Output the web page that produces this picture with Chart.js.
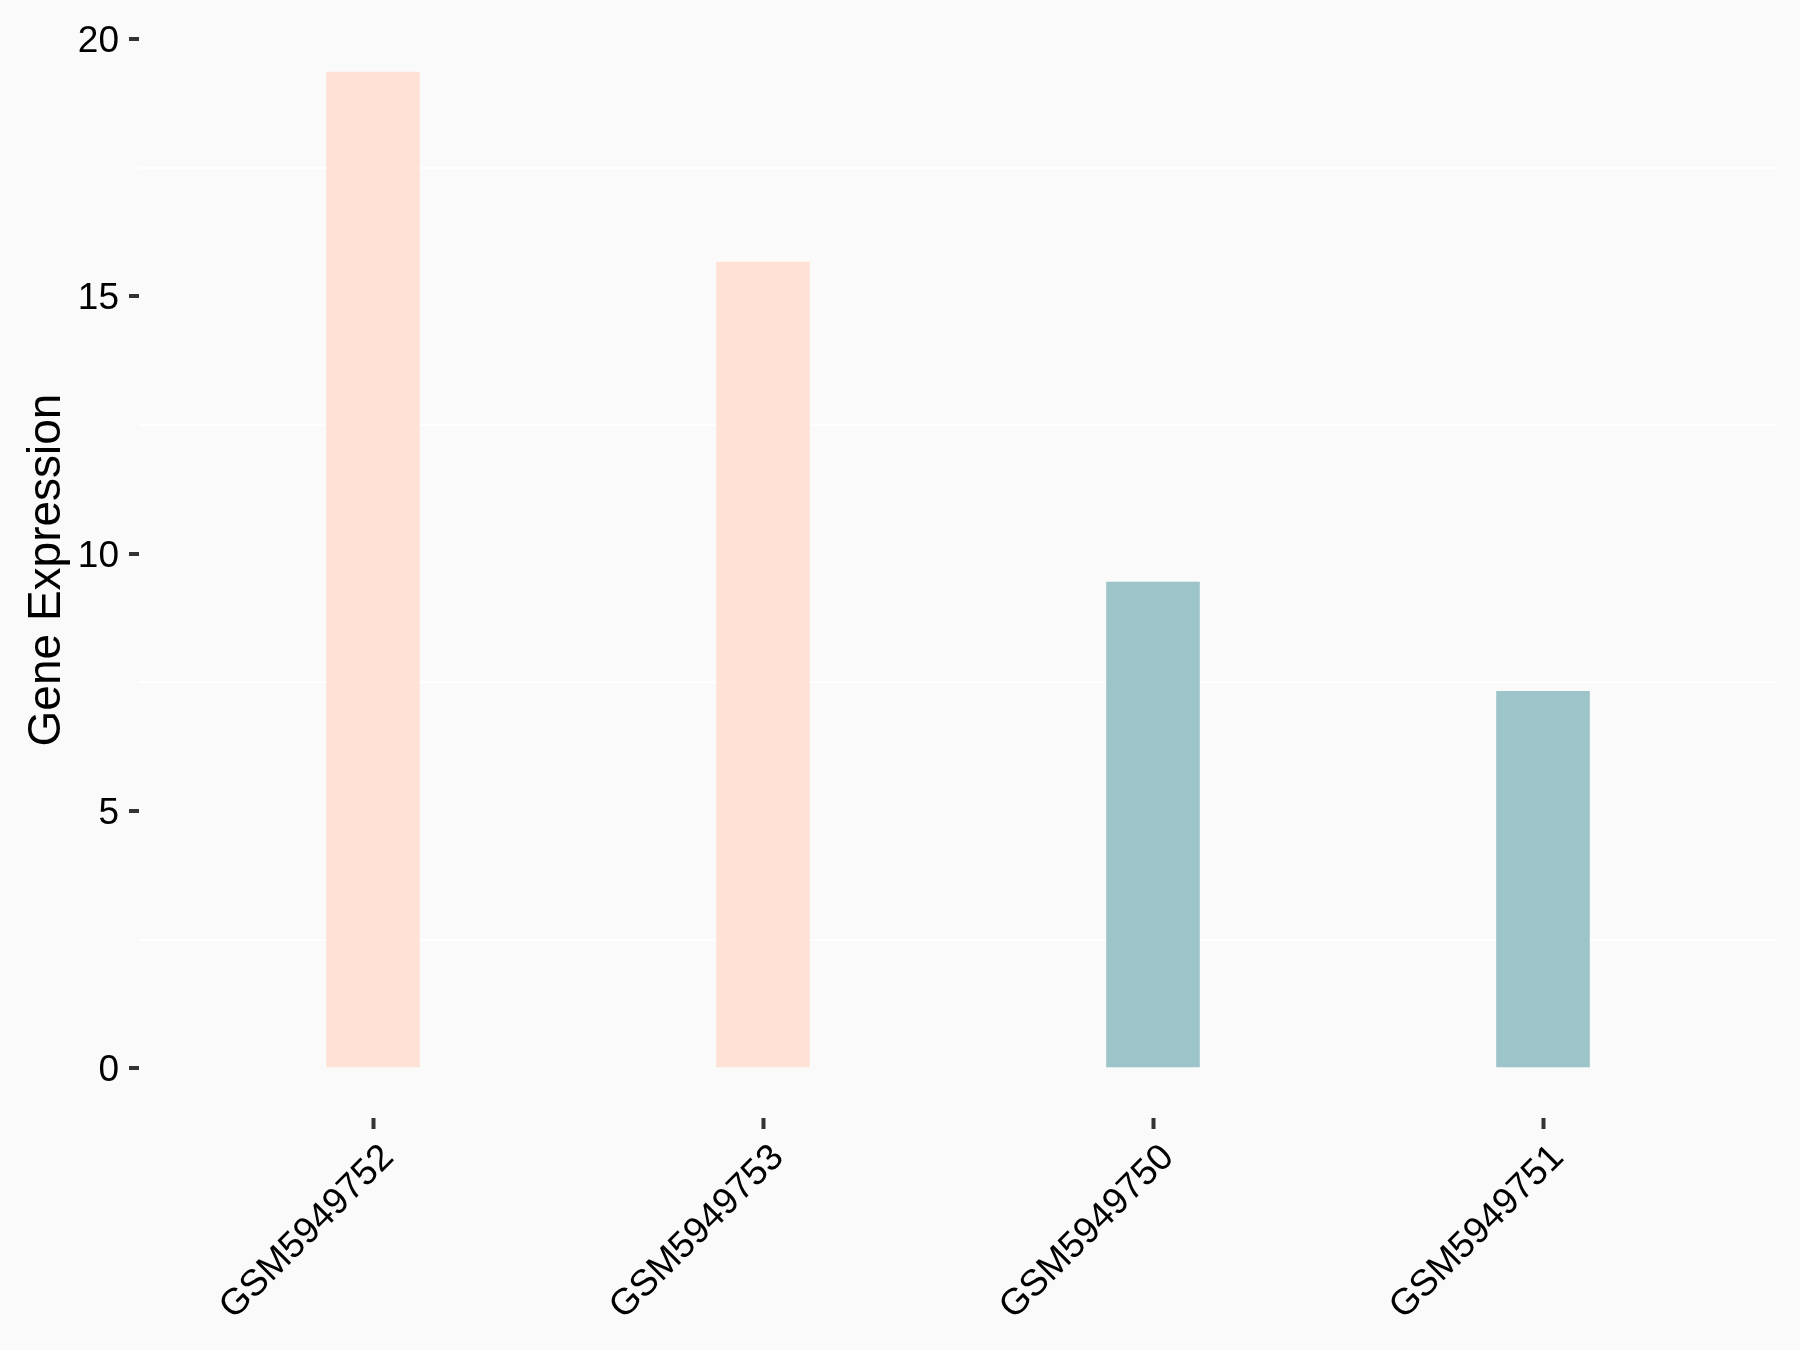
<!DOCTYPE html>
<html>
<head>
<meta charset="utf-8">
<script src="https://cdn.jsdelivr.net/npm/chart.js@4.4.1/dist/chart.umd.min.js"></script>
<style>
  html, body { margin: 0; padding: 0; background: #FAFAFA; }
  #wrap { width: 1800px; height: 1350px; }
</style>
</head>
<body>
<div id="wrap"><canvas id="barChart" width="1800" height="1350"></canvas></div>
<script>
const samples = ['GSM5949752', 'GSM5949753', 'GSM5949750', 'GSM5949751'];
const expression = [19.36, 15.67, 9.45, 7.33];
const barColors = ['#FFE1D6', '#FFE1D6', '#9DC4C8', '#9DC4C8'];
const yTicks = [0, 5, 10, 15, 20];
const yMinor = [2.5, 7.5, 12.5, 17.5];

// ggplot-like expansion: 5% on y, 0.6 category on x
const yMin = -0.968, yMax = 20.328;
const xMin = -0.6, xMax = samples.length - 1 + 0.6;

const font = "'Liberation Sans', Arial, sans-serif";

const ctx = document.getElementById('barChart').getContext('2d');
new Chart(ctx, {
  type: 'bar',
  data: {
    datasets: [{
      data: expression.map((v, i) => ({ x: i, y: v })),
      backgroundColor: barColors,
      borderWidth: 0,
      barPercentage: 0.24,
      categoryPercentage: 1
    }]
  },
  plugins: [{
    id: 'bg',
    beforeDraw(chart) {
      const c = chart.ctx;
      c.save();
      c.fillStyle = '#FAFAFA';
      c.fillRect(0, 0, chart.width, chart.height);
      c.restore();
    }
  }],
  options: {
    responsive: false,
    animation: false,
    layout: { padding: { top: 22, right: 23, left: 0, bottom: 0 } },
    plugins: { legend: { display: false }, tooltip: { enabled: false } },
    scales: {
      x: {
        type: 'linear',
        min: xMin,
        max: xMax,
        offset: false,
        border: { display: false },
        grid: { offset: false, color: 'rgba(0,0,0,0)', drawTicks: true, tickLength: 11, tickColor: '#333', tickWidth: 4 },
        afterBuildTicks: s => { s.ticks = samples.map((_, i) => ({ value: i })); },
        afterFit: s => { s.height = 232; },
        ticks: {
          minRotation: 45,
          maxRotation: 45,
          autoSkip: false,
          padding: 7,
          labelOffset: 15,
          color: '#000',
          font: { family: font, size: 37 },
          callback: v => samples[v]
        }
      },
      y: {
        min: yMin,
        max: yMax,
        border: { display: false },
        afterBuildTicks: s => {
          s.ticks = yTicks.concat(yMinor).sort((a, b) => a - b).map(v => ({ value: v }));
        },
        afterFit: s => { s.width = 139; },
        grid: {
          color: c => (yMinor.includes(c.tick.value) ? '#FFFFFF' : 'rgba(0,0,0,0)'),
          lineWidth: 2,
          tickLength: 10,
          tickWidth: 4,
          tickColor: c => (yMinor.includes(c.tick.value) ? 'rgba(0,0,0,0)' : '#333')
        },
        ticks: {
          padding: 10,
          labelOffset: 3,
          color: '#000',
          font: { family: font, size: 37, lineHeight: 0.6 },
          callback: v => (yTicks.includes(v) ? String(v) : '')
        },
        title: {
          display: true,
          text: 'Gene Expression',
          color: '#000',
          font: { family: font, size: 46 },
          padding: { top: 20, bottom: 0 }
        }
      }
    }
  }
});
</script>
</body>
</html>
